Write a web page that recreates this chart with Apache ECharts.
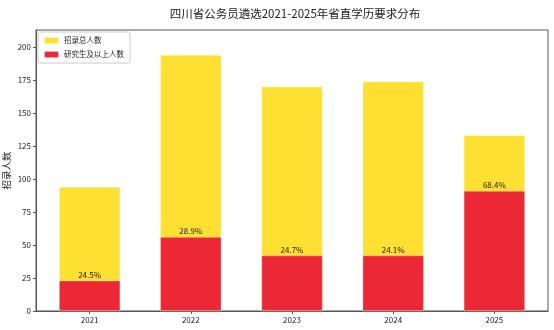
<!DOCTYPE html>
<html>
<head>
<meta charset="utf-8">
<script src="https://cdn.jsdelivr.net/npm/echarts@6/dist/echarts.min.js"></script>
<style>
  html, body { margin: 0; padding: 0; background: #fff; }
  #main { width: 554px; height: 330px; }
</style>
</head>
<body>
<div id="main"></div>
<script>
var years = ["2021", "2022", "2023", "2024", "2025"];
var totalHires = [94, 194, 170, 174, 133];
var postgradHires = [23, 56, 42, 42, 91];
var yTicks = [0, 25, 50, 75, 100, 125, 150, 175, 200];

var font = '"Noto Sans CJK SC", "DejaVu Sans", sans-serif';
var xPos = years.map(function (y, i) { return i; });

var chart = echarts.init(document.getElementById("main"));
chart.setOption({
  animation: false,
  textStyle: { fontFamily: font },
  title: {
    text: "四川省公务员遴选2021-2025年省直学历要求分布",
    left: 290,
    textAlign: "center",
    top: 3,
    textStyle: { fontFamily: font, fontSize: 11.5, fontWeight: "normal", color: "#222" }
  },
  legend: {
    orient: "vertical",
    left: 38,
    top: 32,
    itemWidth: 15,
    itemHeight: 7,
    itemGap: 5,
    padding: [4, 6, 4, 5],
    borderColor: "#ccc",
    borderWidth: 1,
    borderRadius: 2,
    backgroundColor: "rgba(255,255,255,0.85)",
    textStyle: { fontFamily: font, fontSize: 7.5, color: "#222" },
    data: ["招录总人数", "研究生及以上人数"]
  },
  grid: {
    left: 36,
    right: 6,
    top: 30,
    bottom: 19,
    show: true,
    borderColor: "#555",
    borderWidth: 1,
    containLabel: false,
    outerBoundsMode: "none"
  },
  xAxis: {
    type: "value",
    min: -0.53,
    max: 4.53,
    splitLine: { show: false },
    axisLine: { onZero: false, lineStyle: { color: "#555" } },
    axisTick: { show: true, customValues: xPos, length: 3, lineStyle: { color: "#555" } },
    axisLabel: {
      customValues: xPos,
      fontFamily: font, fontSize: 8, color: "#222", margin: 5,
      formatter: function (v) { return years[Math.round(v)]; }
    }
  },
  yAxis: {
    type: "value",
    min: 0,
    max: 213,
    interval: 25,
    name: "招录人数",
    nameLocation: "middle",
    nameRotate: 90,
    nameGap: 25,
    nameMoveOverlap: false,
    nameTextStyle: { fontFamily: font, fontSize: 9.5, color: "#222" },
    axisLine: { show: true, onZero: false, lineStyle: { color: "#555" } },
    axisTick: { show: true, length: 3, lineStyle: { color: "#555" } },
    splitLine: { show: false },
    axisLabel: {
      fontFamily: font, fontSize: 8, color: "#222", margin: 5,
      showMaxLabel: false,
      formatter: function (v) { return yTicks.indexOf(v) >= 0 ? String(v) : ""; }
    }
  },
  series: [
    {
      name: "招录总人数",
      type: "bar",
      barWidth: 61,
      barGap: "-100%",
      itemStyle: { color: "#FEE033", borderColor: "rgba(255,255,255,0.6)", borderWidth: 0.5 },
      data: totalHires.map(function (v, i) { return [i, v]; })
    },
    {
      name: "研究生及以上人数",
      type: "bar",
      barWidth: 61,
      barGap: "-100%",
      itemStyle: { color: "#EC2836", borderColor: "rgba(255,255,255,0.6)", borderWidth: 0.5 },
      label: {
        show: true,
        position: "top",
        distance: 2,
        fontFamily: font,
        fontSize: 8,
        color: "#222",
        formatter: function (p) {
          return (postgradHires[p.dataIndex] / totalHires[p.dataIndex] * 100).toFixed(1) + "%";
        }
      },
      data: postgradHires.map(function (v, i) { return [i, v]; })
    }
  ]
});
</script>
</body>
</html>
